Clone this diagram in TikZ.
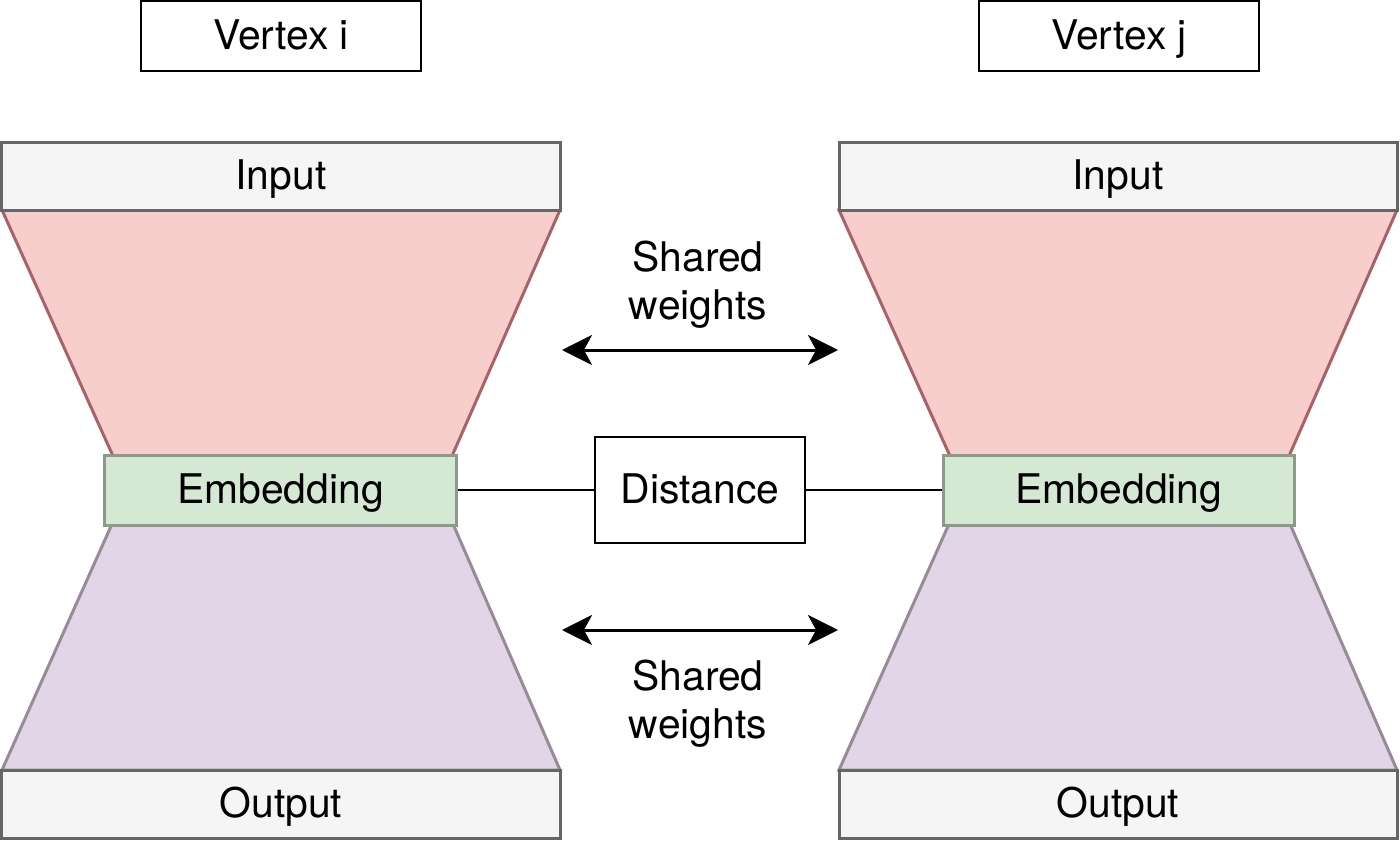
\documentclass[tikz,border=0pt]{standalone}
\usepackage{fontspec}
\setmainfont{TeX Gyre Heros}
\usetikzlibrary{arrows.meta}
\definecolor{inFill}{HTML}{F5F5F5}
\definecolor{inDraw}{HTML}{666666}
\definecolor{redFill}{HTML}{F8CECC}
\definecolor{redDraw}{HTML}{A8626A}
\definecolor{grFill}{HTML}{D5E8D4}
\definecolor{grDraw}{HTML}{8C9A8A}
\definecolor{puFill}{HTML}{E1D5E7}
\definecolor{puDraw}{HTML}{9A8A96}
\tikzset{
  txt/.style={font=\fontsize{41}{49}\selectfont},
  onel/.style={txt, text height=30bp, text depth=3bp},
  plainbox/.style={onel, draw=black, line width=2.5bp, fill=white, inner sep=0pt},
  iobox/.style={onel, draw=inDraw, line width=3bp, fill=inFill, inner sep=0pt, minimum width=558bp, minimum height=68bp},
  embbox/.style={onel, draw=grDraw, line width=3bp, fill=grFill, inner sep=0pt, minimum width=351bp, minimum height=70bp},
  enc/.style={fill=redFill, draw=redDraw, line width=3bp, line join=miter},
  dec/.style={fill=puFill, draw=puDraw, line width=3bp, line join=miter},
  link/.style={draw=black, line width=2.8bp},
  dbl/.style={draw=black, line width=3bp, {Stealth[length=30bp,width=30bp,inset=8bp]}-{Stealth[length=30bp,width=30bp,inset=8bp]}},
  lbl/.style={txt, align=center, inner sep=0pt}
}
\begin{document}
\begin{tikzpicture}[x=1bp,y=-1bp]
\useasboundingbox (0,0) rectangle (1400,841);
% vertex labels
\node[plainbox, minimum width=280bp, minimum height=70bp] (vi) at (281,36) {Vertex i};
\node[plainbox, minimum width=280bp, minimum height=70bp] (vj) at (1119,36) {Vertex j};
% left network
\coordinate (lt1) at (2,210); \coordinate (lt2) at (560,210);
\coordinate (lb1) at (113,456); \coordinate (lb2) at (452,456);
\coordinate (lc1) at (112,524); \coordinate (lc2) at (453,524);
\coordinate (ld1) at (2,770); \coordinate (ld2) at (560,770);
\draw[enc] (lt1) -- (lt2) -- (lb2) -- (lb1) -- cycle;
\draw[dec] (lc1) -- (lc2) -- (ld2) -- (ld1) -- cycle;
\node[iobox] (inL) at (281,176) {Input};
\node[iobox] (outL) at (281,804) {Output};
\node[embbox] (embL) at (280.5,490) {Embedding};
% right network
\coordinate (rt1) at (839,210); \coordinate (rt2) at (1397,210);
\coordinate (rb1) at (950,456); \coordinate (rb2) at (1289,456);
\coordinate (rc1) at (949,524); \coordinate (rc2) at (1290,524);
\coordinate (rd1) at (839,770); \coordinate (rd2) at (1397,770);
\draw[enc] (rt1) -- (rt2) -- (rb2) -- (rb1) -- cycle;
\draw[dec] (rc1) -- (rc2) -- (rd2) -- (rd1) -- cycle;
\node[iobox] (inR) at (1118,176) {Input};
\node[iobox] (outR) at (1118,804) {Output};
\node[embbox] (embR) at (1119,490) {Embedding};
% distance
\node[plainbox, minimum width=210bp, minimum height=106bp] (dist) at (700,490) {Distance};
\draw[link] (embL.east) -- (dist.west);
\draw[link] (dist.east) -- (embR.west);
% shared weights
\coordinate (a1) at (562,350); \coordinate (a2) at (838,350);
\coordinate (b1) at (562,630); \coordinate (b2) at (838,630);
\draw[dbl] (a1) -- (a2);
\draw[dbl] (b1) -- (b2);
\node[lbl] (sw1) at (698,285) {Shared\\[-1bp]weights};
\node[lbl] (sw2) at (698,704) {Shared\\[-1bp]weights};
\end{tikzpicture}
\end{document}
